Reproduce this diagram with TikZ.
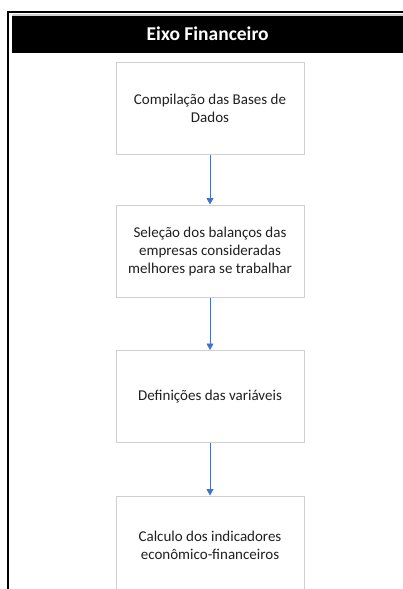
\documentclass[tikz,border=0pt]{standalone}
\usepackage{fontspec}
\setmainfont{Carlito}
\usetikzlibrary{arrows.meta}
\definecolor{boxgray}{HTML}{D0D0D0}
\definecolor{arrblue}{HTML}{4472C4}
\definecolor{txtgray}{HTML}{202020}
\tikzset{
  px/.style={x=1pt,y=-1pt},
  stepbox/.style={draw=boxgray, line width=1pt, fill=white, minimum width=188pt, minimum height=92pt,
    align=center, inner sep=0pt, text=txtgray, font=\fontsize{15}{18}\selectfont},
  flow/.style={draw=arrblue, line width=0.9pt, -{Triangle[width=7pt,length=6.5pt]}}
}
\begin{document}
\begin{tikzpicture}[px]
\useasboundingbox (0,0) rectangle (403,589);
\fill[white] (0,0) rectangle (403,589);
% outer frame
\draw[line width=2pt, black] (8,592) -- (8,12) -- (403,12);
% header
\fill[boxgray] (12,14) rectangle (403,53);
\node[fill=black, minimum width=391pt, minimum height=37pt, inner sep=0pt, anchor=north west,
  text=white, font=\fontsize{19.5}{22}\selectfont\bfseries] (head) at (12,15.5) {Eixo Financeiro};
% boxes
\node[stepbox] (b1) at (210,108) {Compilação das Bases de\\Dados};
\node[stepbox] (b2) at (210,251) {Seleção dos balanços das\\empresas consideradas\\melhores para se trabalhar};
\node[stepbox] (b3) at (210,396.5) {Definições das variáveis};
\node[stepbox, minimum height=98pt] (b4) at (210,545) {Calculo dos indicadores\\econômico-financeiros};
% arrows
\draw[flow] (b1) -- (b2);
\draw[flow] (b2) -- (b3);
\draw[flow] (b3) -- (b4);
\end{tikzpicture}
\end{document}
